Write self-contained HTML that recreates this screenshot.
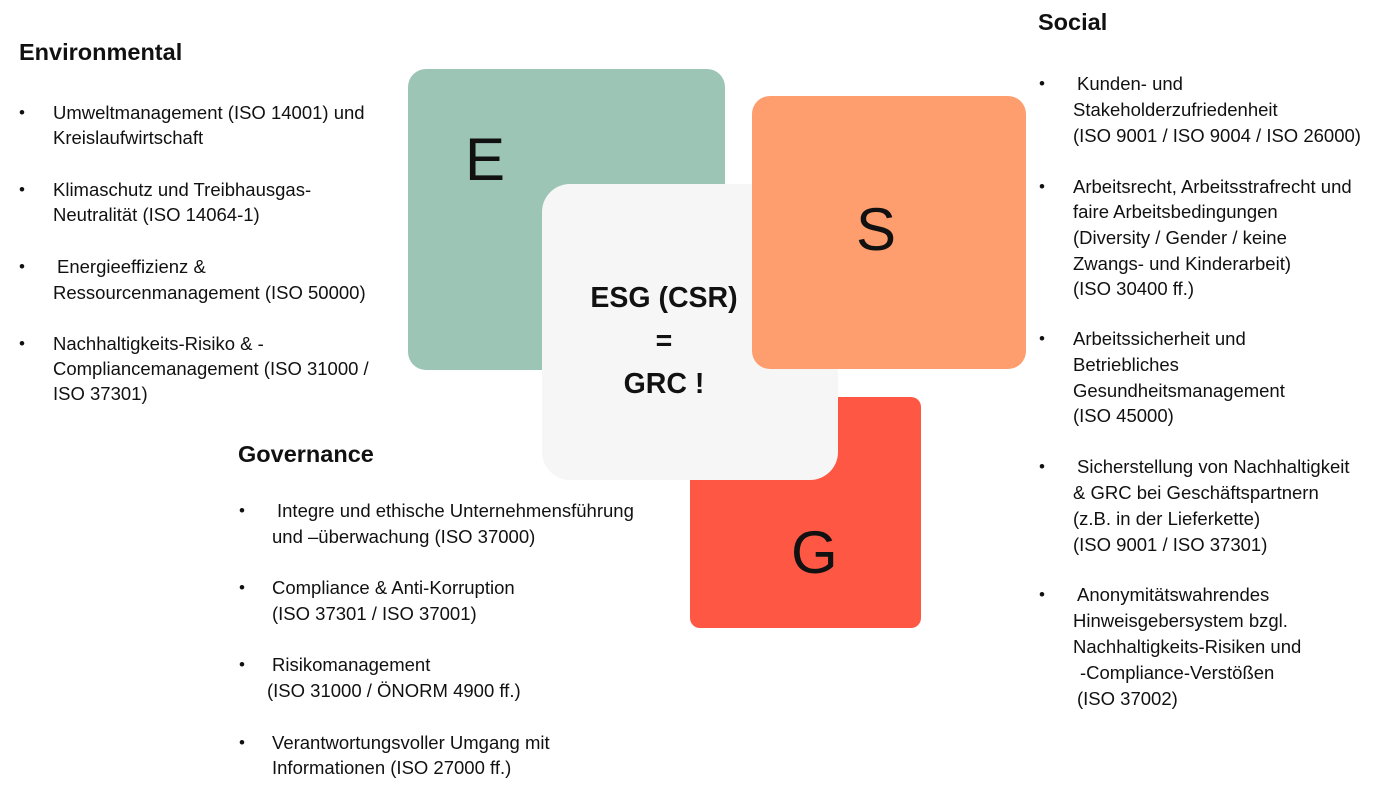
<!DOCTYPE html>
<html><head><meta charset="utf-8"><style>
body{margin:0;width:1400px;height:787px;background:#fff;position:relative;overflow:hidden;font-family:"Liberation Sans",sans-serif;color:#111}
.t{position:absolute;font-size:18.5px;line-height:24px;white-space:nowrap;height:24px}
.h{position:absolute;font-size:23.5px;font-weight:bold;line-height:28px;white-space:nowrap}
.b{position:absolute;font-size:17px;line-height:24px}
.box{position:absolute;border-radius:18px}
.L{position:absolute;font-size:60px;line-height:60px}
</style></head><body>
<div class="box" style="left:408px;top:69px;width:317px;height:301px;background:#9cc5b6"></div>
<div class="box" style="left:690px;top:397px;width:231px;height:231px;background:#fe5845;border-radius:10px"></div>
<div class="box" style="left:542px;top:184px;width:296px;height:296px;background:#f6f6f6;border-radius:28px"></div>
<div class="box" style="left:752px;top:96px;width:274px;height:273px;background:#fe9d6e"></div>
<div class="L" style="left:465px;top:130px">E</div>
<div class="L" style="left:856px;top:200px">S</div>
<div class="L" style="left:791px;top:523px">G</div>
<div style="position:absolute;left:516px;top:277px;width:296px;text-align:center;font-size:28.5px;font-weight:bold;line-height:43px">ESG (CSR)<br>=<br>GRC !</div>

<div class="h" style="left:19px;top:38px">Environmental</div>
<div class="b" style="left:19px;top:101px">•</div>
<div class="t" style="left:53px;top:101px">Umweltmanagement (ISO 14001) und</div>
<div class="t" style="left:53px;top:126px">Kreislaufwirtschaft</div>
<div class="b" style="left:19px;top:178px">•</div>
<div class="t" style="left:53px;top:178px">Klimaschutz und Treibhausgas-</div>
<div class="t" style="left:53px;top:203px">Neutralität (ISO 14064-1)</div>
<div class="b" style="left:19px;top:255px">•</div>
<div class="t" style="left:57px;top:255px">Energieeffizienz &amp;</div>
<div class="t" style="left:53px;top:281px">Ressourcenmanagement (ISO 50000)</div>
<div class="b" style="left:19px;top:332px">•</div>
<div class="t" style="left:53px;top:332px">Nachhaltigkeits-Risiko &amp; -</div>
<div class="t" style="left:53px;top:357px">Compliancemanagement (ISO 31000 /</div>
<div class="t" style="left:53px;top:382px">ISO 37301)</div>

<div class="h" style="left:238px;top:440px">Governance</div>
<div class="b" style="left:239px;top:499px">•</div>
<div class="t" style="left:277px;top:499px">Integre und ethische Unternehmensführung</div>
<div class="t" style="left:272px;top:525px">und –überwachung (ISO 37000)</div>
<div class="b" style="left:239px;top:576px">•</div>
<div class="t" style="left:272px;top:576px">Compliance &amp; Anti-Korruption</div>
<div class="t" style="left:272px;top:602px">(ISO 37301 / ISO 37001)</div>
<div class="b" style="left:239px;top:653px">•</div>
<div class="t" style="left:272px;top:653px">Risikomanagement</div>
<div class="t" style="left:267px;top:679px">(ISO 31000 / ÖNORM 4900 ff.)</div>
<div class="b" style="left:239px;top:731px">•</div>
<div class="t" style="left:272px;top:731px">Verantwortungsvoller Umgang mit</div>
<div class="t" style="left:272px;top:756px">Informationen (ISO 27000 ff.)</div>

<div class="h" style="left:1038px;top:8px">Social</div>
<div class="b" style="left:1039px;top:72px">•</div>
<div class="t" style="left:1077px;top:72px">Kunden- und</div>
<div class="t" style="left:1073px;top:98px">Stakeholderzufriedenheit</div>
<div class="t" style="left:1073px;top:124px">(ISO 9001 / ISO 9004 / ISO 26000)</div>
<div class="b" style="left:1039px;top:175px">•</div>
<div class="t" style="left:1073px;top:175px">Arbeitsrecht, Arbeitsstrafrecht und</div>
<div class="t" style="left:1073px;top:200px">faire Arbeitsbedingungen</div>
<div class="t" style="left:1073px;top:226px">(Diversity / Gender / keine</div>
<div class="t" style="left:1073px;top:252px">Zwangs- und Kinderarbeit)</div>
<div class="t" style="left:1073px;top:277px">(ISO 30400 ff.)</div>
<div class="b" style="left:1039px;top:327px">•</div>
<div class="t" style="left:1073px;top:327px">Arbeitssicherheit und</div>
<div class="t" style="left:1073px;top:353px">Betriebliches</div>
<div class="t" style="left:1073px;top:379px">Gesundheitsmanagement</div>
<div class="t" style="left:1073px;top:404px">(ISO 45000)</div>
<div class="b" style="left:1039px;top:455px">•</div>
<div class="t" style="left:1077px;top:455px">Sicherstellung von Nachhaltigkeit</div>
<div class="t" style="left:1073px;top:481px">&amp; GRC bei Geschäftspartnern</div>
<div class="t" style="left:1073px;top:507px">(z.B. in der Lieferkette)</div>
<div class="t" style="left:1073px;top:533px">(ISO 9001 / ISO 37301)</div>
<div class="b" style="left:1039px;top:583px">•</div>
<div class="t" style="left:1077px;top:583px">Anonymitätswahrendes</div>
<div class="t" style="left:1073px;top:609px">Hinweisgebersystem bzgl.</div>
<div class="t" style="left:1073px;top:635px">Nachhaltigkeits-Risiken und</div>
<div class="t" style="left:1080px;top:661px">-Compliance-Verstößen</div>
<div class="t" style="left:1077px;top:687px">(ISO 37002)</div>
</body></html>
